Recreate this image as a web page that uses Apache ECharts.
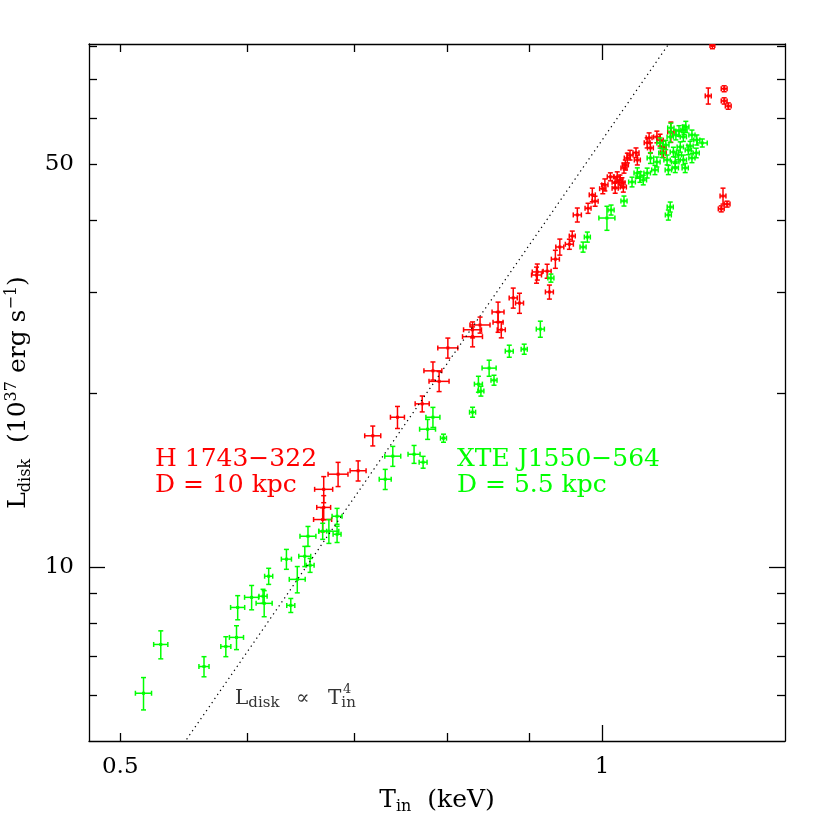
<!DOCTYPE html>
<html>
<head>
<meta charset="utf-8">
<script src="https://cdn.jsdelivr.net/npm/echarts@6/dist/echarts.min.js"></script>
<style>
  html, body { margin: 0; padding: 0; background: #fff; }
  #chart { width: 830px; height: 830px; }
</style>
</head>
<body>
<div id="chart"></div>
<script>
// H 1743-322 (D = 10 kpc): inner disk temperature (keV), luminosity (1e37 erg/s) and errors
const h1743T = [1.172,1.165,1.192,1.192,1.199,1.190,1.187,1.197,1.104,1.082,1.087,1.070,1.067,1.072,1.092,1.092,1.050,1.052,1.041,1.037,1.034,1.032,1.022,1.012,1.029,1.019,1.026,1.031,1.019,1.004,1.001,0.986,0.990,0.980,0.965,0.958,0.954,0.941,0.935,0.924,0.911,0.910,0.927,0.880,0.888,0.861,0.861,0.865,0.839,0.830,0.830,0.801,0.784,0.791,0.772,0.745,0.719,0.704,0.684,0.670,0.670,0.669];
const h1743L = [80.2,65.6,67.5,64.3,63.0,44.0,41.8,42.6,56.8,55.7,55.0,55.5,54.4,53.3,53.5,52.3,52.3,50.8,51.8,51.2,49.8,49.2,47.5,47.5,46.4,46.5,46.9,45.6,45.4,46.0,45.3,44.2,43.1,41.9,40.8,37.5,36.3,35.9,34.2,32.6,32.5,32.1,30.0,29.3,28.7,27.7,26.6,25.8,26.3,25.8,25.1,24.0,21.9,21.0,19.2,18.2,16.9,14.7,14.5,13.65,12.7,12.1];
const h1743Terr = [0.004,0.005,0.005,0.005,0.005,0.005,0.005,0.005,0.005,0.005,0.005,0.0045,0.0045,0.0045,0.0045,0.0045,0.0045,0.0045,0.0045,0.0045,0.0045,0.0045,0.0045,0.0045,0.0045,0.0045,0.0045,0.0045,0.0045,0.0045,0.0045,0.0043,0.0043,0.0042,0.0056,0.0041,0.0055,0.0054,0.0054,0.0053,0.0066,0.0065,0.0053,0.0051,0.0051,0.0074,0.0062,0.005,0.0121,0.0107,0.0119,0.0115,0.0101,0.0114,0.0078,0.0075,0.0083,0.0081,0.0098,0.0087,0.0067,0.0087];
const h1743Lerr = [1.0,2.1,0.8,0.8,0.8,1.4,0.5,0.5,2.3,1.3,1.3,1.1,1.1,1.1,1.3,1.0,1.0,1.0,1.0,1.0,1.0,1.0,0.95,0.76,0.93,0.93,0.94,0.91,0.91,1.1,0.9,1.2,0.86,0.84,1.14,0.75,0.73,1.15,1.23,0.91,1.04,1.03,0.84,1.17,1.15,1.11,1.06,0.82,0.84,0.82,1.0,0.96,0.79,0.84,0.61,0.80,0.67,0.59,0.70,0.71,0.61,0.58];

// XTE J1550-564 (D = 5.5 kpc)
const xteT = [0.517,0.530,0.564,0.582,0.591,0.592,0.604,0.614,0.615,0.619,0.639,0.645,0.635,0.652,0.657,0.655,0.669,0.675,0.683,0.683,0.732,0.740,0.763,0.773,0.784,0.778,0.796,0.830,0.837,0.840,0.850,0.856,0.875,0.894,0.915,0.929,0.973,0.979,1.007,1.013,1.032,1.100,1.103,1.044,1.052,1.056,1.061,1.067,1.072,1.079,1.082,1.087,1.090,1.098,1.100,1.103,1.104,1.108,1.111,1.111,1.116,1.117,1.119,1.124,1.124,1.127,1.128,1.132,1.138,1.138,1.145,1.146,1.155,1.096,1.125,1.135,1.112];
const xteL = [6.05,7.35,6.73,7.29,7.56,8.52,8.87,8.91,8.66,9.65,8.59,9.53,10.33,10.45,10.08,11.32,11.55,11.55,11.41,12.26,14.21,15.58,15.70,15.21,18.20,17.35,16.74,18.57,20.77,20.20,22.14,21.10,23.69,23.88,25.87,31.71,35.89,37.35,40.30,41.61,43.13,40.79,42.11,46.53,48.23,47.47,46.90,48.23,51.21,48.82,50.40,54.37,52.25,50.81,48.82,55.70,57.74,52.45,50.40,49.21,51.83,57.05,53.51,55.70,50.81,49.21,57.97,52.87,56.14,51.21,52.25,55.03,54.37,53.94,57.28,53.72,56.14];
const xteTerr = [0.006,0.0054,0.0041,0.0042,0.006,0.006,0.0061,0.0036,0.0071,0.0036,0.0037,0.0074,0.0046,0.0056,0.0038,0.0075,0.0038,0.0097,0.0039,0.0049,0.0063,0.0085,0.0066,0.0044,0.0079,0.0089,0.0034,0.0036,0.0048,0.0036,0.0086,0.0037,0.005,0.0039,0.0053,0.004,0.0042,0.0042,0.0116,0.0044,0.0045,0.0047,0.0048,0.005,0.005,0.006,0.005,0.005,0.005,0.005,0.005,0.005,0.005,0.005,0.005,0.005,0.005,0.005,0.006,0.005,0.005,0.005,0.005,0.005,0.005,0.005,0.005,0.005,0.005,0.005,0.005,0.005,0.0083,0.005,0.005,0.005,0.005];
const xteLerr = [0.39,0.41,0.27,0.29,0.36,0.41,0.43,0.25,0.45,0.31,0.24,0.50,0.41,0.42,0.28,0.45,0.37,0.55,0.37,0.39,0.57,0.62,0.56,0.36,0.73,0.69,0.27,0.37,0.66,0.40,0.71,0.42,0.57,0.48,0.83,0.51,0.72,0.75,1.93,0.83,0.86,0.82,0.84,0.9,1.0,1.0,0.9,0.95,1.1,0.9,1.0,1.1,0.95,1.0,0.9,1.2,1.1,1.0,1.0,0.9,1.0,1.2,1.1,1.0,1.0,0.9,1.3,1.0,1.1,0.95,1.0,1.1,0.87,1.0,1.1,1.0,1.1];

// L_disk ~ T^4 reference line, end points
const fitT = [0.52, 1.15];
const fitL = [4.02, 96.2];

// axis ticks and labels
const tMin = 0.478, tMax = 1.301;
const lMin = 5, lMax = 80.7;
const tMinorTicks = [0.5, 0.6, 0.7, 0.8, 0.9];
const tMajorTicks = [1];
const tLabels = [0.5, 1];
const lMinorTicks = [6, 7, 8, 9, 20, 30, 40, 50, 60, 70, 80];
const lMajorTicks = [10];
const lLabels = [10, 50];

const FONT = 'DejaVu Serif';
const RED = '#ff0000';
const GREEN = '#00ff00';

const chart = echarts.init(document.getElementById('chart'), null, {renderer: 'canvas'});

function zip4(a, b, c, d) {
  return a.map((v, i) => [v, b[i], c[i], d[i]]);
}

function renderErrorBar(params, api) {
  const t = api.value(0), l = api.value(1), dt = api.value(2), dl = api.value(3);
  const c = api.coord([t, l]);
  const xl = api.coord([t - dt, l])[0], xr = api.coord([t + dt, l])[0];
  const yb = api.coord([t, l - dl])[1], yt = api.coord([t, l + dl])[1];
  const color = api.visual('color');
  const cap = 2.5;
  const st = {stroke: color, lineWidth: 1.5};
  return {
    type: 'group',
    children: [
      {type: 'line', shape: {x1: xl, y1: c[1], x2: xr, y2: c[1]}, style: st},
      {type: 'line', shape: {x1: c[0], y1: yt, x2: c[0], y2: yb}, style: st},
      {type: 'line', shape: {x1: xl, y1: c[1] - cap, x2: xl, y2: c[1] + cap}, style: st},
      {type: 'line', shape: {x1: xr, y1: c[1] - cap, x2: xr, y2: c[1] + cap}, style: st},
      {type: 'line', shape: {x1: c[0] - cap, y1: yt, x2: c[0] + cap, y2: yt}, style: st},
      {type: 'line', shape: {x1: c[0] - cap, y1: yb, x2: c[0] + cap, y2: yb}, style: st},
      {type: 'rect', shape: {x: c[0] - 1.5, y: c[1] - 1.5, width: 3, height: 3}, style: {fill: color}}
    ]
  };
}

const lineStyle = {color: '#000', width: 1.3};
const labelFont = {fontFamily: FONT, fontSize: 23, color: '#000'};
const fmt = v => String(+(+v).toPrecision(3));

function logAxis(gridIndex, position, min, max, ticks, tickLen, labels, showLine) {
  return {
    type: 'log',
    logBase: 10,
    gridIndex: gridIndex,
    position: position,
    min: min,
    max: max,
    axisLine: {show: showLine, onZero: false, lineStyle: lineStyle},
    axisTick: {show: true, inside: true, length: tickLen, customValues: ticks, lineStyle: lineStyle},
    axisLabel: labels
      ? Object.assign({show: true, customValues: labels, formatter: fmt, margin: 15}, labelFont)
      : {show: false},
    splitLine: {show: false},
    minorTick: {show: false}
  };
}

const richTitle = {
  sub: {fontFamily: FONT, fontSize: 16, lineHeight: 12, verticalAlign: 'bottom', color: '#000'},
  sup: {fontFamily: FONT, fontSize: 16, lineHeight: 12, verticalAlign: 'top', color: '#000'}
};

const xBottom = logAxis(0, 'bottom', tMin, tMax, tMinorTicks, 8, tLabels, true);
xBottom.name = 'T{sub|in}  (keV)';
xBottom.nameLocation = 'middle';
xBottom.nameGap = 44;
xBottom.nameTextStyle = {fontFamily: FONT, fontSize: 25, color: '#000', lineHeight: 30, rich: richTitle};

const yLeft = logAxis(0, 'left', lMin, lMax, lMinorTicks, 8, lLabels, true);
yLeft.name = 'L{sub|disk}  (10{sup|37} erg s{sup|−1})';
yLeft.nameLocation = 'middle';
yLeft.nameGap = 55;
yLeft.nameTextStyle = {fontFamily: FONT, fontSize: 25, color: '#000', lineHeight: 30, rich: richTitle};

const gridRect = {left: 89, right: 45, top: 44, bottom: 89, outerBoundsMode: 'none', containLabel: false};

const noteStyle = {fill: '#333', font: '20px "DejaVu Serif"', verticalAlign: 'middle', lineHeight: 24,
  rich: {s: {fontFamily: FONT, fontSize: 15, lineHeight: 8, verticalAlign: 'bottom', fill: '#333'}}};

const option = {
  animation: false,
  backgroundColor: '#fff',
  grid: [Object.assign({}, gridRect), Object.assign({}, gridRect)],
  xAxis: [
    xBottom,
    logAxis(0, 'top', tMin, tMax, tMinorTicks, 8, null, true),
    logAxis(1, 'bottom', tMin, tMax, tMajorTicks, 16, null, false),
    logAxis(1, 'top', tMin, tMax, tMajorTicks, 16, null, false)
  ],
  yAxis: [
    yLeft,
    logAxis(0, 'right', lMin, lMax, lMinorTicks, 8, null, true),
    logAxis(1, 'left', lMin, lMax, lMajorTicks, 16, null, false),
    logAxis(1, 'right', lMin, lMax, lMajorTicks, 16, null, false)
  ],
  series: [
    {
      name: 'L ~ T^4',
      type: 'line',
      xAxisIndex: 0,
      yAxisIndex: 0,
      data: fitT.map((t, i) => [t, fitL[i]]),
      symbol: 'none',
      clip: true,
      lineStyle: {color: '#000', width: 1.2, type: [1.3, 3.6]}
    },
    {
      name: 'H 1743-322',
      type: 'custom',
      xAxisIndex: 0,
      yAxisIndex: 0,
      clip: true,
      itemStyle: {color: RED},
      renderItem: renderErrorBar,
      encode: {x: 0, y: 1},
      data: zip4(h1743T, h1743L, h1743Terr, h1743Lerr)
    },
    {
      name: 'XTE J1550-564',
      type: 'custom',
      xAxisIndex: 0,
      yAxisIndex: 0,
      clip: true,
      itemStyle: {color: GREEN},
      renderItem: renderErrorBar,
      encode: {x: 0, y: 1},
      data: zip4(xteT, xteL, xteTerr, xteLerr)
    }
  ],
  graphic: [
    {type: 'text', x: 155, y: 459, style: {text: 'H 1743−322', fill: RED, font: '25px "DejaVu Serif"', verticalAlign: 'middle'}},
    {type: 'text', x: 155, y: 485, style: {text: 'D = 10 kpc', fill: RED, font: '25px "DejaVu Serif"', verticalAlign: 'middle'}},
    {type: 'text', x: 457, y: 459, style: {text: 'XTE J1550−564', fill: GREEN, font: '25px "DejaVu Serif"', verticalAlign: 'middle'}},
    {type: 'text', x: 457, y: 485, style: {text: 'D = 5.5 kpc', fill: GREEN, font: '25px "DejaVu Serif"', verticalAlign: 'middle'}},
    {type: 'text', x: 235, y: 699, style: Object.assign({text: 'L{s|disk}'}, noteStyle)},
    {type: 'text', x: 296, y: 699, style: Object.assign({text: '∝'}, noteStyle)},
    {type: 'text', x: 328, y: 699, style: Object.assign({text: 'T{s|in}'}, noteStyle)},
    {type: 'text', x: 343, y: 690, style: {text: '4', fill: '#333', font: '13px "DejaVu Serif"', verticalAlign: 'middle'}}
  ]
};

chart.setOption(option);
</script>
</body>
</html>
